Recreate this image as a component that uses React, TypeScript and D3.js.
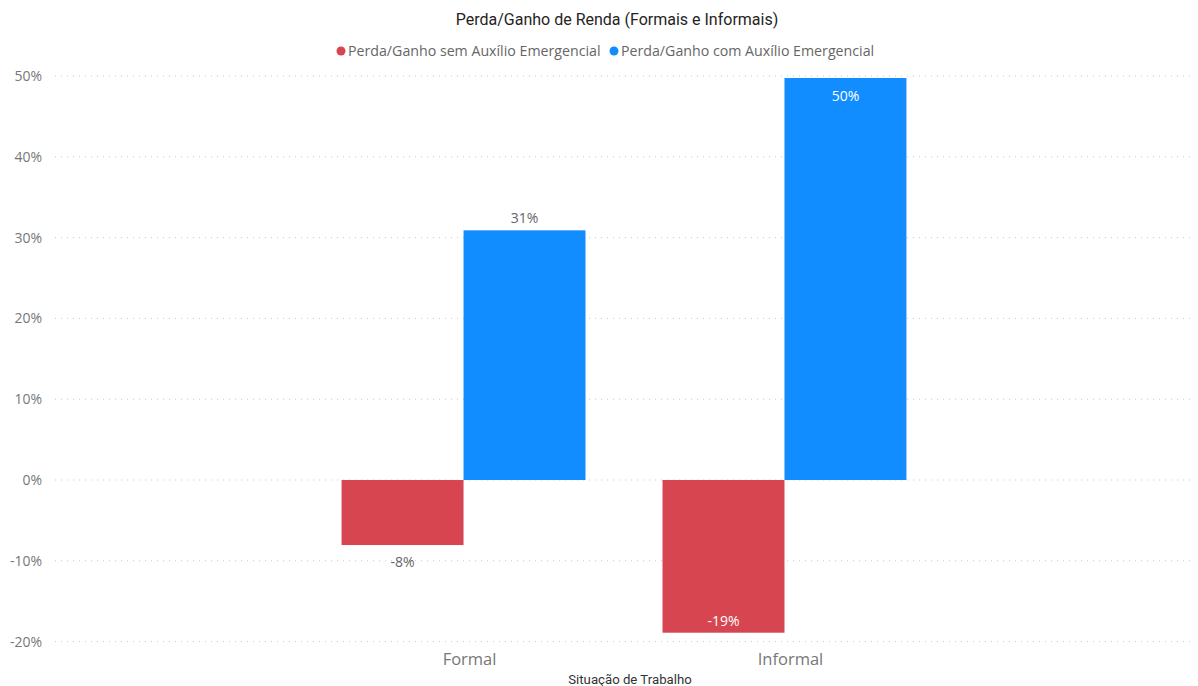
import React from "react";
import * as d3 from "d3";

const categories = ["Formal", "Informal"];
const seriesNames = ["Perda/Ganho sem Auxílio Emergencial", "Perda/Ganho com Auxílio Emergencial"];
const semAuxilio = [-0.0805, -0.189];
const comAuxilio = [0.309, 0.4975];
const seriesColors = ["#D64550", "#118DFF"];
const yTicks = [-0.2, -0.1, 0, 0.1, 0.2, 0.3, 0.4, 0.5];

const W = 1198;
const H = 686;
const FONT = "'Segoe UI', 'Open Sans', 'Noto Sans', sans-serif";

export default function App() {
  const y = d3.scaleLinear().domain([-0.2, 0.5]).range([641.6, 76]);
  const x = d3.scaleBand<string>().domain(categories).range([54, 1194]).paddingInner(0.24).paddingOuter(0.896);
  const bw = x.bandwidth();
  const sub = d3.scaleBand<number>().domain([0, 1]).range([0, bw]).padding(0);
  const series = [semAuxilio, comAuxilio];
  const fmt = (v: number) => `${Math.round(v * 100)}%`;
  const [yMin, yMax] = y.range();

  return (
    <svg width={W} height={H} style={{ position: "absolute", left: 0, top: 0, background: "#fff" }} fontFamily={FONT}>
      <text x={617} y={25} textAnchor="middle" fontSize={16} fill="#252423" fontFamily="Roboto, 'Noto Sans', sans-serif">
        Perda/Ganho de Renda (Formais e Informais)
      </text>
      {/* legend */}
      <g fontSize={14.2} fill="#666">
        <circle cx={341} cy={51} r={4.5} fill={seriesColors[0]} />
        <text x={348} y={56}>{seriesNames[0]}</text>
        <circle cx={614} cy={51} r={4.5} fill={seriesColors[1]} />
        <text x={621} y={56}>{seriesNames[1]}</text>
      </g>
      {/* grid */}
      {yTicks.map((t) => (
        <g key={t}>
          <line x1={55} x2={1195} y1={y(t)} y2={y(t)} stroke="#c8c8c8" strokeDasharray="1 5" strokeWidth={1} />
          <text x={42} y={y(t) + 5} textAnchor="end" fontSize={14} fill="#777">
            {fmt(t)}
          </text>
        </g>
      ))}
      {/* bars */}
      {categories.map((c, i) => (
        <g key={c}>
          {series.map((vals, s) => {
            const v = vals[i];
            const bx = (x(c) as number) + (sub(s) as number);
            const top = y(Math.max(0, v));
            const bot = y(Math.min(0, v));
            return <rect key={s} x={bx} y={top} width={sub.bandwidth()} height={bot - top} fill={seriesColors[s]} />;
          })}
          <text x={(x(c) as number) + bw / 2 + 6} y={665} textAnchor="middle" fontSize={16.5} fill="#777">
            {c}
          </text>
        </g>
      ))}
      {/* data labels */}
      {categories.map((c, i) =>
        series.map((vals, s) => {
          const v = vals[i];
          const cx = (x(c) as number) + (sub(s) as number) + sub.bandwidth() / 2;
          const space = v >= 0 ? y(v) - yMax : yMin - y(v);
          const inside = space < 30;
          let ly: number;
          if (v >= 0) ly = inside ? y(v) + 23 : y(v) - 7;
          else ly = inside ? y(v) - 7 : y(v) + 22;
          return (
            <text key={`${c}-${s}`} x={cx} y={ly} textAnchor="middle" fontSize={14} fill={inside ? "#fff" : "#666"}>
              {fmt(v)}
            </text>
          );
        })
      )}
      <text x={630} y={684} textAnchor="middle" fontSize={13.2} fill="#333" fontFamily="Roboto, 'Noto Sans', sans-serif">
        Situação de Trabalho
      </text>
    </svg>
  );
}
